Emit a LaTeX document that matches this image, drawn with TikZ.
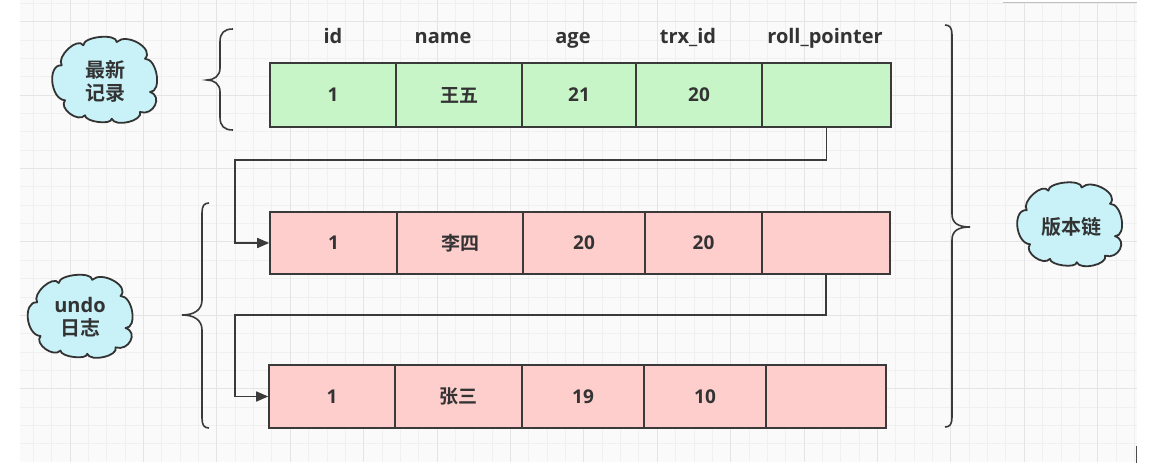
\documentclass[tikz,border=0pt]{standalone}
\usepackage{fontspec}
\setmainfont{Open Sans}
\newfontfamily\cjk{Noto Sans CJK SC}[BoldFont={Noto Sans CJK SC Bold}]
\usetikzlibrary{arrows.meta}
\definecolor{txtc}{HTML}{333333}
\definecolor{linec}{HTML}{3A3A3A}
\definecolor{greenf}{HTML}{C8F5C8}
\definecolor{redf}{HTML}{FDCECC}
\definecolor{cloudf}{HTML}{C8F2F8}
\definecolor{gridmin}{HTML}{F0F0F0}
\definecolor{gridmaj}{HTML}{E4E4E4}
\newcommand\drawcloudshape[3]{%
  \begin{scope}[shift={(#1,#2)},yscale=#3]
    \filldraw[cloudst] (-42.8,-14.2)
      .. controls (-48.4,-23.0) and (-26.8,-43.0) .. (-21.2,-34.2)
      .. controls (-21.2,-43.1) and (12.2,-46.4) .. (12.2,-37.5)
      .. controls (22.1,-47.3) and (50.4,-30.6) .. (40.5,-20.8)
      .. controls (52.8,-20.8) and (57.8,12.5) .. (45.5,12.5)
      .. controls (58.8,16.9) and (48.8,36.9) .. (35.5,32.5)
      .. controls (38.8,41.4) and (10.5,48.1) .. (7.2,39.2)
      .. controls (7.2,45.9) and (-19.5,42.5) .. (-19.5,35.8)
      .. controls (-26.2,43.7) and (-46.2,28.7) .. (-39.5,20.8)
      .. controls (-54.2,19.7) and (-57.5,-15.3) .. (-42.8,-14.2) -- cycle;
  \end{scope}}
\begin{document}
\begin{tikzpicture}[x=1pt,y=-1pt,
  celltxt/.style={text=txtc, font=\bfseries\fontsize{19}{22}\selectfont},
  cellg/.style={draw=linec, line width=1.6pt, fill=greenf, celltxt, inner sep=0pt, minimum height=64pt},
  cellr/.style={draw=linec, line width=1.6pt, fill=redf, celltxt, inner sep=0pt},
  hdr/.style={text=txtc, font=\bfseries\fontsize{20}{23}\selectfont, anchor=base, inner sep=0pt},
  cloudst/.style={draw=txtc, line width=1.8pt, fill=cloudf, line join=round},
  cloudtxt/.style={text=txtc, font=\bfseries\fontsize{20}{23}\selectfont, align=center, inner sep=0pt},
  conn/.style={draw=linec, line width=1.6pt, -{Triangle[length=12pt,width=10pt]}},
  brc/.style={draw=linec, line width=1.6pt},
  gmin/.style={draw=gridmin, line width=0.8pt},
  gmaj/.style={draw=gridmaj, line width=1pt}
]
\useasboundingbox (0,0) rectangle (1156,470);
\fill[white] (0,0) rectangle (1156,470);
\fill[white!98!black] (20,0) rectangle (1137,462);
% grid
\foreach \i in {0,...,60} {\draw[gmin] ({33.3+18.35*\i},0) -- ({33.3+18.35*\i},462);}
\foreach \j in {0,...,24} {\draw[gmin] (20,{3.35+18.35*\j}) -- (1137,{3.35+18.35*\j});}
\foreach \i in {0,...,14} {\draw[gmaj] ({70+73.4*\i},0) -- ({70+73.4*\i},462);}
\foreach \j in {0,...,5} {\draw[gmaj] (20,{21.7+73.4*\j}) -- (1137,{21.7+73.4*\j});}
\fill[white] (1003,0) rectangle (1156,2.5);
\draw[draw=black!25, line width=0.8pt] (1003,2.5) -- (1137,2.5);
\draw[draw=black!70, line width=1pt] (1136,446) -- (1136,463);

% headers
\node[hdr] (h1) at (333,44) {id};
\node[hdr] (h2) at (443,44) {name};
\node[hdr] (h3) at (573,44) {age};
\node[hdr] (h4) at (688,44) {trx\_id};
\node[hdr] (h5) at (825,44) {roll\_pointer};

% row 1
\node[cellg, minimum width=126pt] (a1) at (333,95) {1};
\node[cellg, minimum width=126pt] (a2) at (459,95) {\cjk\bfseries 王五};
\node[cellg, minimum width=114pt] (a3) at (579,95) {21};
\node[cellg, minimum width=126pt] (a4) at (699,95) {20};
\node[cellg, minimum width=129pt] (a5) at (826.5,95) {};

% row 2
\node[cellr, minimum height=62pt, minimum width=127pt] (b1) at (333.5,243) {1};
\node[cellr, minimum height=62pt, minimum width=126pt] (b2) at (460,243) {\cjk\bfseries 李四};
\node[cellr, minimum height=62pt, minimum width=122pt] (b3) at (584,243) {20};
\node[cellr, minimum height=62pt, minimum width=117pt] (b4) at (703.5,243) {20};
\node[cellr, minimum height=62pt, minimum width=128pt] (b5) at (826,243) {};

% row 3
\node[cellr, minimum height=63pt, minimum width=126pt] (c1) at (332,396.5) {1};
\node[cellr, minimum height=63pt, minimum width=127pt] (c2) at (458.5,396.5) {\cjk\bfseries 张三};
\node[cellr, minimum height=63pt, minimum width=122pt] (c3) at (583,396.5) {19};
\node[cellr, minimum height=63pt, minimum width=122pt] (c4) at (705,396.5) {10};
\node[cellr, minimum height=63pt, minimum width=120pt] (c5) at (826,396.5) {};

% connectors
\coordinate (p1) at (235,160);
\coordinate (p2) at (235,315);
\draw[conn] (a5.south) |- (p1) |- (b1.west);
\draw[conn] (b5.south) |- (p2) |- (c1.west);

% braces
\draw[brc] (233,29) .. controls (224,29) and (220,33) .. (220,42) -- (220,68) .. controls (220,76) and (214,80) .. (207,80) .. controls (214,80) and (220,84) .. (220,92) -- (220,117) .. controls (220,126) and (224,130) .. (233,130);
\draw[brc] (209,203) .. controls (204,203) and (202,206) .. (202,213) -- (202,300) .. controls (202,310) and (194,315) .. (182,315) .. controls (194,315) and (202,320) .. (202,330) -- (202,418) .. controls (202,425) and (204,428) .. (209,428);
\draw[brc] (945,25) .. controls (950,25) and (952,28) .. (952,35) -- (952,214) .. controls (952,223) and (958,227) .. (970,227) .. controls (958,227) and (952,231) .. (952,240) -- (952,417) .. controls (952,424) and (950,427) .. (945,427);

% clouds
\drawcloudshape{104.5}{79.5}{1}
\drawcloudshape{80}{316}{0.965}
\drawcloudshape{1069.5}{224}{0.975}
\node[cloudtxt] (k1) at (105,81) {{\cjk\bfseries 最新}\\{\cjk\bfseries 记录}};
\node[cloudtxt] (k2) at (80,317) {undo\\{\cjk\bfseries 日志}};
\node[cloudtxt] (k3) at (1071,227) {\cjk\bfseries 版本链};
\end{tikzpicture}
\end{document}
